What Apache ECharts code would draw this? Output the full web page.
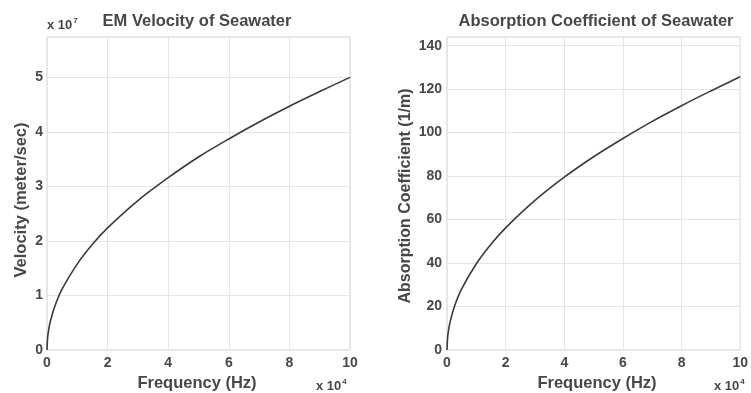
<!DOCTYPE html>
<html><head><meta charset="utf-8">
<script src="https://cdn.jsdelivr.net/npm/echarts@6/dist/echarts.min.js"></script>
<style>html,body{margin:0;padding:0;background:#fff}#c{width:751px;height:393px}</style>
</head><body><div id="c"></div>
<script>
// Frequency in units of 1e4 Hz
const freq = [0, 0.02, 0.05, 0.1, 0.25, 0.5, 1, 1.5, 2, 3, 4, 5, 6, 7, 8, 9, 10];
// Velocity in units of 1e7 m/s
const velocity = [0, 0.22, 0.35, 0.5, 0.79, 1.12, 1.58, 1.94, 2.24, 2.74, 3.16, 3.54, 3.87, 4.18, 4.47, 4.74, 5.0];
// Absorption coefficient (1/m)
const absorption = [0, 5.6, 8.9, 12.6, 19.9, 28.1, 39.7, 48.7, 56.2, 68.8, 79.5, 88.9, 97.3, 105.2, 112.4, 119.2, 125.7];
const xTicks = [0, 2, 4, 6, 8, 10];

const chart = echarts.init(document.getElementById('c'), null, {renderer: 'canvas'});
const font = 'Liberation Sans, Arial, sans-serif';
const labelStyle = {color: '#484848', fontSize: 14, fontWeight: 'bold', fontFamily: font};
const gridLine = {show: true, lineStyle: {color: '#e6e6e6', width: 1}};
const txt = '#474747';

function xAxis(idx) {
  return {
    type: 'value', gridIndex: idx, min: 0, max: 10, interval: 2,
    axisLine: {show: false}, axisTick: {show: false},
    axisLabel: Object.assign({margin: 6}, labelStyle),
    splitLine: gridLine
  };
}
function yAxis(idx, max, interval, margin) {
  return {
    type: 'value', gridIndex: idx, min: 0, max: max, interval: interval,
    axisLine: {show: false}, axisTick: {show: false},
    axisLabel: Object.assign({margin: margin, showMaxLabel: false}, labelStyle),
    splitLine: gridLine
  };
}
const sup = (base, exp) => ({
  text: '{b|' + base + '}{s|' + exp + '}',
  rich: {b: {fill: txt, font: 'bold 13px ' + font}, s: {fill: txt, font: 'bold 8px ' + font, verticalAlign: 'top', padding: [0, 0, 8, 1]}}
});

chart.setOption({
  animation: false,
  grid: [
    {left: 47, right: 401, top: 37, bottom: 43, show: true, borderColor: '#cfcfcf', borderWidth: 1},
    {left: 447, right: 3, top: 37, bottom: 43, show: true, borderColor: '#cfcfcf', borderWidth: 1}
  ],
  xAxis: [xAxis(0), xAxis(1)],
  yAxis: [yAxis(0, 5.74, 1, 4), yAxis(1, 144, 20, 5)],
  series: [
    {type: 'line', xAxisIndex: 0, yAxisIndex: 0, showSymbol: false, smooth: 0.3,
     lineStyle: {color: '#3a3a3a', width: 1.6},
     data: freq.map((f, i) => [f, velocity[i]])},
    {type: 'line', xAxisIndex: 1, yAxisIndex: 1, showSymbol: false, smooth: 0.3,
     lineStyle: {color: '#3a3a3a', width: 1.6},
     data: freq.map((f, i) => [f, absorption[i]])}
  ],
  graphic: [
    {type: 'text', x: 197, y: 21, style: {text: 'EM Velocity of Seawater', fill: txt, font: 'bold 16.5px ' + font, align: 'center', verticalAlign: 'middle'}},
    {type: 'text', x: 596, y: 21, style: {text: 'Absorption Coefficient of Seawater', fill: txt, font: 'bold 16.5px ' + font, align: 'center', verticalAlign: 'middle'}},
    {type: 'text', left: 47, top: 17, style: sup('x 10', '7')},
    {type: 'text', x: 197, y: 383, style: {text: 'Frequency (Hz)', fill: txt, font: 'bold 16.5px ' + font, align: 'center', verticalAlign: 'middle'}},
    {type: 'text', x: 597, y: 383, style: {text: 'Frequency (Hz)', fill: txt, font: 'bold 16.5px ' + font, align: 'center', verticalAlign: 'middle'}},
    {type: 'text', left: 316, top: 378, style: sup('x 10', '4')},
    {type: 'text', left: 714, top: 378, style: sup('x 10', '4')},
    {type: 'text', x: 21, y: 200, rotation: Math.PI / 2, style: {text: 'Velocity (meter/sec)', fill: txt, font: 'bold 16.5px ' + font, align: 'center', verticalAlign: 'middle'}},
    {type: 'text', x: 406, y: 196, rotation: Math.PI / 2, style: {text: 'Absorption Coefficient (1/m)', fill: txt, font: 'bold 16px ' + font, align: 'center', verticalAlign: 'middle'}}
  ]
});
</script></body></html>
